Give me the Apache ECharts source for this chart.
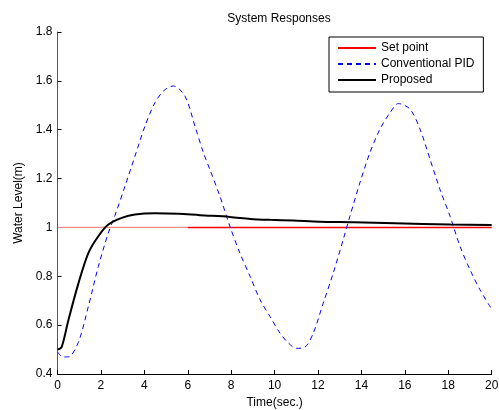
<!DOCTYPE html>
<html>
<head>
<meta charset="utf-8">
<script src="https://cdn.jsdelivr.net/npm/echarts@6/dist/echarts.min.js"></script>
<style>
  html, body { margin: 0; padding: 0; background: #fff; }
  #echarts { width: 499px; height: 410px; }
</style>
</head>
<body>
<div id="echarts"></div>
<script>
// data
var pidTime = [0, 0.25, 0.5, 0.96, 1.42, 1.88, 2.34, 2.65, 3.11, 3.57, 4.03, 4.49, 4.9, 5.33, 5.87, 6.33, 6.72, 7.02, 7.48, 7.94, 8.4, 8.87, 9.33, 9.79, 10.25, 10.6, 11.0, 11.4, 11.78, 12.24, 12.7, 13.16, 13.47, 13.93, 14.39, 14.85, 15.32, 15.7, 16.24, 16.7, 17.16, 17.62, 18.08, 18.54, 19.0, 19.46, 20];
var pidLevel = [0.49, 0.47, 0.47, 0.53, 0.676, 0.84, 0.977, 1.05, 1.169, 1.292, 1.415, 1.511, 1.56, 1.579, 1.538, 1.415, 1.306, 1.237, 1.128, 1.005, 0.895, 0.8, 0.704, 0.635, 0.567, 0.53, 0.505, 0.51, 0.567, 0.69, 0.813, 0.95, 1.046, 1.183, 1.306, 1.402, 1.47, 1.507, 1.484, 1.402, 1.279, 1.155, 1.046, 0.923, 0.827, 0.745, 0.665];

var propTime = [0, 0.19, 0.5, 0.96, 1.42, 1.88, 2.34, 2.96, 3.57, 4.49, 5.57, 6.56, 7.94, 8.87, 9.79, 10.86, 12.09, 13.65, 15.55, 18.1, 20];
var propLevel = [0.5, 0.51, 0.62, 0.77, 0.895, 0.964, 1.012, 1.039, 1.053, 1.058, 1.056, 1.05, 1.043, 1.035, 1.031, 1.028, 1.023, 1.021, 1.017, 1.012, 1.01];

var setTime = [6, 20];
var setLevel = [1, 1];
var refTime = [0, 6];
var refLevel = [1, 1];

var xTicks = [0, 20, 2];      // min, max, step
var yTicks = [0.4, 1.8, 0.2];

function pairs(xs, ys) {
    return xs.map(function (x, i) { return [x, ys[i]]; });
}

var myChart = echarts.init(document.getElementById('echarts'));

var font = 'Liberation Sans, Arial, sans-serif';

option = {
    animation: false,
    title: {
        text: 'System Responses',
        left: 274, top: 8, textAlign: 'center',
        textStyle: { fontFamily: font, fontSize: 12, fontWeight: 'normal', color: '#000' }
    },
    legend: { // boxed legend, top right
        orient: 'vertical',
        left: 329, top: 37,
        padding: [5, 9, 6, 8],
        itemWidth: 38, itemHeight: 14, itemGap: 4,
        borderColor: '#000', borderWidth: 1, borderRadius: 0,
        backgroundColor: '#fff',
        itemStyle: { opacity: 0 },  // line only, no marker
        textStyle: { fontFamily: font, fontSize: 12, color: '#000' },
        data: ['Set point', 'Conventional PID', 'Proposed']
    },
    grid: { left: 57.5, right: 7.3, top: 32, bottom: 36, outerBoundsMode: 'none' },
    xAxis: {
        type: 'value',
        min: xTicks[0], max: xTicks[1], interval: xTicks[2],
        name: 'Time(sec.)', nameLocation: 'middle', nameGap: 23,
        nameTextStyle: { fontFamily: font, fontSize: 12, color: '#000' },
        axisLine: { lineStyle: { color: '#000', width: 1 } },
        axisTick: { inside: true, length: 4, lineStyle: { color: '#000' } },
        axisLabel: { fontFamily: font, fontSize: 12, color: '#000', margin: 6 },
        splitLine: { show: false }
    },
    yAxis: {
        type: 'value',
        min: yTicks[0], max: yTicks[1], interval: yTicks[2],
        name: 'Water Level(m)', nameLocation: 'middle', nameGap: 31,
        nameTextStyle: { fontFamily: font, fontSize: 12, color: '#000' },
        axisLine: { show: true, lineStyle: { color: '#555', width: 1 } },
        axisTick: { show: true, inside: true, length: 4, lineStyle: { color: '#000' } },
        axisLabel: { fontFamily: font, fontSize: 12, color: '#000', margin: 5 },
        splitLine: { show: false }
    },
    series: [
        {
            name: 'ref',
            type: 'line', symbol: 'none', silent: true,
            lineStyle: { color: '#f08c8c', width: 1.2 },
            data: pairs(refTime, refLevel), z: 1
        },
        {
            name: 'Set point',
            type: 'line', symbol: 'none',
            lineStyle: { color: '#ff0000', width: 1.5 },
            itemStyle: { color: '#ff0000' },
            data: pairs(setTime, setLevel), z: 2
        },
        {
            name: 'Conventional PID',
            type: 'line', symbol: 'none', smooth: 0.3,
            lineStyle: { color: '#0000ff', width: 1, type: [5, 4] },
            itemStyle: { color: '#0000ff' },
            data: pairs(pidTime, pidLevel), z: 3
        },
        {
            name: 'Proposed',
            type: 'line', symbol: 'none', smooth: 0.3,
            lineStyle: { color: '#000', width: 2 },
            itemStyle: { color: '#000' },
            data: pairs(propTime, propLevel), z: 4
        }
    ]
};

myChart.setOption(option);
</script>
</body>
</html>
